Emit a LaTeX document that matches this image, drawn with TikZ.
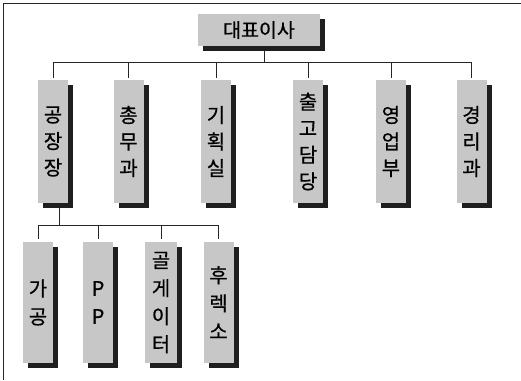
\documentclass[tikz,border=0pt]{standalone}
\usepackage{fontspec}
\newfontfamily\kr[FakeBold=0.6]{Noto Sans CJK KR}
\usetikzlibrary{shadows}
\begin{document}
\begin{tikzpicture}[x=1pt,y=-1pt,
  box/.style={fill=black!22, inner sep=0pt, align=center,
    drop shadow={shadow xshift=5pt, shadow yshift=-5pt, fill=black!88, opacity=1},
    font=\kr\fontsize{20}{26.5}\selectfont},
  col/.style={box, minimum width=30pt, minimum height=123pt},
  sub/.style={box, minimum width=30pt, minimum height=121pt, font=\kr\fontsize{20}{28}\selectfont},
  conn/.style={draw=black!85, line width=0.9pt}]
\useasboundingbox (0,0) rectangle (521,380);
\draw[line width=1.1pt, black!85] (521,3.5) -- (3.5,3.5) -- (3.5,380);

\node[box, minimum width=122pt, minimum height=32pt, font=\kr\fontsize{19.5}{22}\selectfont] (top) at (259,30) {대표이사};

\node[col] (c1) at (53,141.5) {공\\장\\장};
\node[col] (c2) at (128.5,141.5) {총\\무\\과};
\node[col] (c3) at (216,141.5) {기\\획\\실};
\node[col] (c4) at (308,141.5) {출\\고\\담\\당};
\node[col] (c5) at (391,141.5) {영\\업\\부};
\node[col] (c6) at (471.5,141.5) {경\\리\\과};

\node[sub] (s1) at (38,302.5) {가\\공};
\node[sub] (s2) at (98,302.5) {P\\P};
\node[sub, minimum width=32pt] (s3) at (161,302.5) {골\\게\\이\\터};
\node[sub] (s4) at (218.5,302.5) {후\\렉\\소};

\coordinate (bus) at (264,62);
\draw[conn] ([xshift=5pt,yshift=-5pt]top.south) -- (bus);
\draw[conn] (bus -| c1.north) -- (bus -| c6.north);
\foreach \c in {c1,c2,c3,c4,c5,c6}
  \draw[conn] (\c.north |- bus) -- ([yshift=2pt]\c.north);

\coordinate (sbus) at (59,225);
\draw[conn] ([xshift=6pt,yshift=-5pt]c1.south) -- (sbus);
\draw[conn] (sbus -| s1.north) -- (sbus -| s4.north);
\foreach \s in {s1,s2,s3,s4}
  \draw[conn] (\s.north |- sbus) -- ([yshift=3pt]\s.north);
\end{tikzpicture}
\end{document}
